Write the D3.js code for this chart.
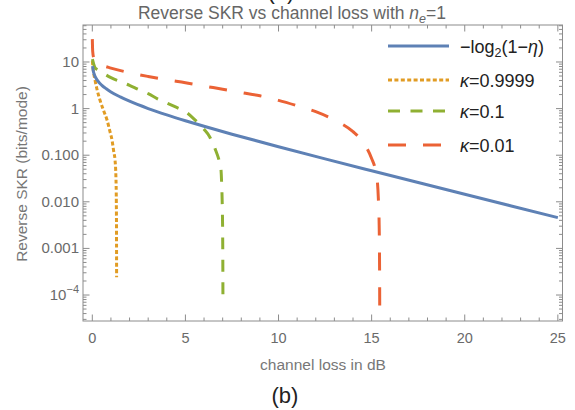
<!DOCTYPE html>
<html><head><meta charset="utf-8">
<script src="https://cdn.jsdelivr.net/npm/d3@7"></script>
<style>
html,body{margin:0;padding:0;background:#fff;}
svg{display:block;font-family:"Liberation Sans",Arial,sans-serif;}
</style></head>
<body>
<svg id="c" width="575" height="410"></svg>
<script>
// ---- data ----
const lossBlue = [0.015, 0.05, 0.1, 0.2, 0.35, 0.5, 0.75, 1, 1.5, 2, 3, 4, 5, 6, 7.5, 10, 12.5, 15, 17.5, 20, 22.5, 25];
const skrBlue  = [8.18, 6.45, 5.46, 4.47, 3.69, 3.20, 2.66, 2.28, 1.78, 1.438, 1.003, 0.732, 0.548, 0.417, 0.2825, 0.152, 0.0835, 0.0464, 0.0259, 0.0145, 0.00814, 0.00457];

const lossOrange = [0.002, 0.03, 0.08, 0.145, 0.25, 0.41, 0.6, 0.79, 0.95, 1.06, 1.15, 1.22, 1.27, 1.29, 1.30, 1.305];
const skrOrange  = [10.5, 8.0, 5.6, 4.1, 2.6, 1.53, 0.92, 0.57, 0.32, 0.21, 0.12, 0.079, 0.032, 0.01, 0.002, 2.4e-4];

const lossGreen = [0.005, 0.15, 0.3, 0.6, 1, 1.5, 2, 2.5, 3, 3.5, 4, 4.5, 5, 5.5, 6, 6.3, 6.6, 6.8, 6.9, 6.95, 6.98, 7.0, 7.01, 7.015];
const skrGreen  = [11.5, 7.5, 6.8, 5.7, 4.6, 3.8, 3.15, 2.55, 2.1, 1.62, 1.32, 1.07, 0.86, 0.58, 0.36, 0.25, 0.135, 0.08, 0.055, 0.022, 0.008, 0.002, 4e-4, 7e-5];

const lossRed = [0.001, 0.02, 0.08, 0.2, 0.5, 1, 2, 3, 4, 5, 6, 7, 8, 9, 10, 11, 12, 13, 14, 14.5, 15, 15.2, 15.3, 15.36, 15.4, 15.42, 15.43, 15.435];
const skrRed  = [31, 17, 12, 10, 8.6, 7.4, 5.9, 4.9, 4.15, 3.6, 3.05, 2.6, 2.2, 1.88, 1.5, 1.15, 0.86, 0.57, 0.32, 0.2, 0.085, 0.05, 0.03, 0.012, 0.004, 0.001, 2e-4, 5e-5];

const xTicks = [0, 5, 10, 15, 20, 25];
const yTicks = [1e-4, 1e-3, 1e-2, 1e-1, 1, 10];
const yTickLabels = ["10^-4", "0.001", "0.010", "0.100", "1", "10"];
const seriesNames = ["-log2(1-η)", "κ=0.9999", "κ=0.1", "κ=0.01"];

// ---- layout ----
const L = 83, R = 562.5, T = 25, B = 321;
const svg = d3.select("#c");
const x = d3.scaleLinear().domain([-0.5, 25.25]).range([L, R]);
const y = d3.scaleLog().domain([2.77e-5, 62.2]).range([B, T]);

const frameCol = "#8c8c8c", tickTextCol = "#6a6a6a";

svg.append("clipPath").attr("id", "clip").append("rect")
  .attr("x", L).attr("y", T).attr("width", R - L).attr("height", B - T);

// ticks
const g = svg.append("g").attr("stroke", frameCol).attr("stroke-width", 1);
const xMinor = d3.range(0, 26, 1).filter(v => v % 5 !== 0);
xTicks.forEach(v => {
  const px = x(v);
  g.append("line").attr("x1", px).attr("x2", px).attr("y1", B).attr("y2", B - 6.5);
  g.append("line").attr("x1", px).attr("x2", px).attr("y1", T).attr("y2", T + 6.5);
});
xMinor.forEach(v => {
  const px = x(v);
  g.append("line").attr("x1", px).attr("x2", px).attr("y1", B).attr("y2", B - 3.5);
  g.append("line").attr("x1", px).attr("x2", px).attr("y1", T).attr("y2", T + 3.5);
});
const yMinor = [];
for (let d = -5; d <= 1; d++) for (let k = 2; k <= 9; k++) {
  const v = k * Math.pow(10, d);
  if (v >= y.domain()[0] && v <= y.domain()[1]) yMinor.push(v);
}
yTicks.forEach(v => {
  const py = y(v);
  g.append("line").attr("x1", L).attr("x2", L + 6.5).attr("y1", py).attr("y2", py);
  g.append("line").attr("x1", R).attr("x2", R - 6.5).attr("y1", py).attr("y2", py);
});
yMinor.forEach(v => {
  const py = y(v);
  g.append("line").attr("x1", L).attr("x2", L + 3.5).attr("y1", py).attr("y2", py);
  g.append("line").attr("x1", R).attr("x2", R - 3.5).attr("y1", py).attr("y2", py);
});

// frame
svg.append("rect").attr("x", L).attr("y", T).attr("width", R - L).attr("height", B - T)
  .attr("fill", "none").attr("stroke", frameCol).attr("stroke-width", 1);

// tick labels
xTicks.forEach(v => {
  svg.append("text").attr("x", x(v)).attr("y", 343).attr("text-anchor", "middle")
    .attr("font-size", 14.5).attr("fill", tickTextCol).text(v);
});
yTicks.forEach((v, i) => {
  const lab = yTickLabels[i];
  const t = svg.append("text").attr("x", 79).attr("y", y(v) + 5).attr("text-anchor", "end")
    .attr("font-size", 15).attr("fill", tickTextCol);
  if (lab.startsWith("10^")) {
    t.append("tspan").text("10");
    t.append("tspan").attr("dy", -7).attr("font-size", 11).text(lab.slice(3).replace("-", "\u2212"));
  } else t.text(lab);
});

// axis labels
svg.append("text").attr("x", 323).attr("y", 370).attr("text-anchor", "middle")
  .attr("font-size", 15.5).attr("fill", "#777").text("channel loss in dB");
svg.append("text").attr("transform", "translate(27,174) rotate(-90)").attr("text-anchor", "middle")
  .attr("font-size", 15.5).attr("fill", "#777").text("Reverse SKR (bits/mode)");

// title
const title = svg.append("text").attr("x", 292).attr("y", 19).attr("text-anchor", "middle")
  .attr("font-size", 17.5).attr("fill", "#666");
title.append("tspan").text("Reverse SKR vs channel loss with ");
title.append("tspan").attr("font-style", "italic").text("n");
title.append("tspan").attr("font-style", "italic").attr("font-size", 12.5).attr("dy", 4).text("e");
title.append("tspan").attr("dy", -4).text("=1");

// clipped label at top (cut off in the reference too) and (b) below
svg.append("text").attr("x", 281).attr("y", -1.5).attr("text-anchor", "middle")
  .attr("font-size", 22).attr("fill", "#222").text("(a)");
svg.append("text").attr("x", 285).attr("y", 403).attr("text-anchor", "middle")
  .attr("font-size", 22).attr("fill", "#222").text("(b)");

// curves
const series = [
  {xs: lossBlue, ys: skrBlue, color: "#5E81B5", dash: null, w: 3},
  {xs: lossOrange, ys: skrOrange, color: "#E19C24", dash: "4,2.4", w: 3},
  {xs: lossGreen, ys: skrGreen, color: "#8FB032", dash: "12,10.5", w: 3},
  {xs: lossRed, ys: skrRed, color: "#EB6235", dash: "18,17", w: 3}
];
const line = d3.line().x(d => x(d[0])).y(d => y(d[1])).curve(d3.curveMonotoneX);
const cg = svg.append("g").attr("clip-path", "url(#clip)");
[1, 2, 0, 3].forEach(i => {
  const s = series[i];
  const pts = s.xs.map((v, j) => [v, s.ys[j]]);
  cg.append("path").datum(pts).attr("d", line).attr("fill", "none")
    .attr("stroke", s.color).attr("stroke-width", s.w)
    .attr("stroke-dasharray", s.dash);
});

// legend
const legY = [46, 80, 111, 145];
series.forEach((s, i) => {
  svg.append("line").attr("x1", 388).attr("x2", 449).attr("y1", legY[i]).attr("y2", legY[i])
    .attr("stroke", s.color).attr("stroke-width", s.w).attr("stroke-dasharray", s.dash);
  const t = svg.append("text").attr("x", 460).attr("y", legY[i] + 6.5)
    .attr("font-size", 18).attr("fill", "#222");
  const name = seriesNames[i];
  if (i === 0) {
    t.append("tspan").text("\u2212log");
    t.append("tspan").attr("font-size", 12.5).attr("dy", 4.5).text("2");
    t.append("tspan").attr("dy", -4.5).text("(1\u2212");
    t.append("tspan").attr("font-style", "italic").text("η");
    t.append("tspan").text(")");
  } else {
    t.append("tspan").attr("font-style", "italic").text("κ");
    t.append("tspan").text(name.slice(1));
  }
});
</script>
</body></html>
